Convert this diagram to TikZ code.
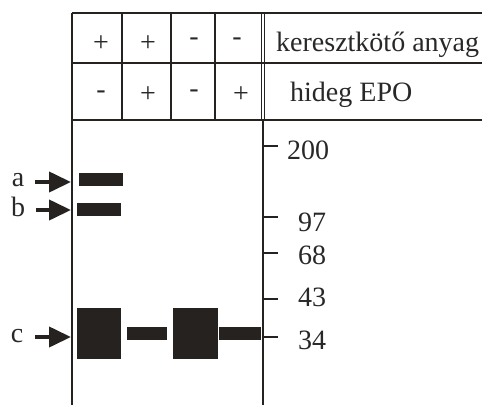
\documentclass[tikz,border=0pt]{standalone}
\usepackage{fontspec}
\setmainfont{Liberation Serif}
\usetikzlibrary{arrows.meta}
\definecolor{gelink}{RGB}{38,34,32}
\definecolor{txtgray}{RGB}{40,40,40}

\begin{document}
\begin{tikzpicture}[x=1pt, y=-1pt,
  frame/.style={gelink, line width=1.6pt},
  thin frame/.style={gelink, line width=1pt},
  band/.style={fill=gelink},
  lbl/.style={inner sep=0pt, text=txtgray, font=\fontsize{28}{31}\selectfont},
  bandarrow/.style={gelink, line width=4pt, -{Triangle[length=22pt, width=20pt]}}]
\useasboundingbox (0,0) rectangle (482,405);
% header grid
\draw[frame] (72,13) -- (482,13);
\draw[frame] (72,63) -- (482,63);
\draw[frame] (72,120) -- (482,120);
\draw[frame] (72,13) -- (72,405);
\draw[frame] (122,13) -- (122,120);
\draw[frame] (171,13) -- (171,120);
\draw[frame] (215,13) -- (215,120);
\draw[thin frame] (261.5,13) -- (261.5,120);
\draw[thin frame] (264.5,13) -- (264.5,120);
\draw[frame] (263,120) -- (263,405);
% header texts
\node[lbl] (p1) at (101,44) {+};
\node[lbl] (p2) at (148,44) {+};
\node[lbl] (p3) at (194,42) {-};
\node[lbl] (p4) at (237,42) {-};
\node[lbl, anchor=west] (cross) at (276,45) {keresztkötő anyag};
\node[lbl] (q1) at (101,95) {-};
\node[lbl] (q2) at (148,95) {+};
\node[lbl] (q3) at (194,94) {-};
\node[lbl] (q4) at (241,95) {+};
\node[lbl, anchor=west] (epo) at (290,95) {hideg EPO};
% bands
\fill[band] (79,173) rectangle (123,186);
\fill[band] (77,203) rectangle (121,216);
\fill[band] (77,308) rectangle (121,359);
\fill[band] (127,327) rectangle (167,340);
\fill[band] (173,308) rectangle (218,359);
\fill[band] (219,327) rectangle (261,340);
% band arrows
\node[lbl] (la) at (18,180) {a};
\node[lbl] (lb) at (18,207) {b};
\node[lbl] (lc) at (17,336) {c};
\coordinate (tipa) at (71,182);
\coordinate (tipb) at (71,210);
\coordinate (tipc) at (71,337);
\draw[bandarrow] ([xshift=11pt]la.east |- tipa) -- (tipa);
\draw[bandarrow] ([xshift=11pt]lb.east |- tipb) -- (tipb);
\draw[bandarrow] ([xshift=12pt]lc.east |- tipc) -- (tipc);
% size marker
\draw[frame] (263,146) -- (278,146);
\draw[frame] (263,217) -- (278,217);
\draw[frame] (263,253) -- (278,253);
\draw[frame] (263,299) -- (278,299);
\draw[frame] (263,337) -- (278,337);
\node[lbl, anchor=west] (m200) at (287,150) {200};
\node[lbl, anchor=west] (m97) at (298,222) {97};
\node[lbl, anchor=west] (m68) at (298,255) {68};
\node[lbl, anchor=west] (m43) at (298,297) {43};
\node[lbl, anchor=west] (m34) at (298,340) {34};
\end{tikzpicture}
\end{document}
